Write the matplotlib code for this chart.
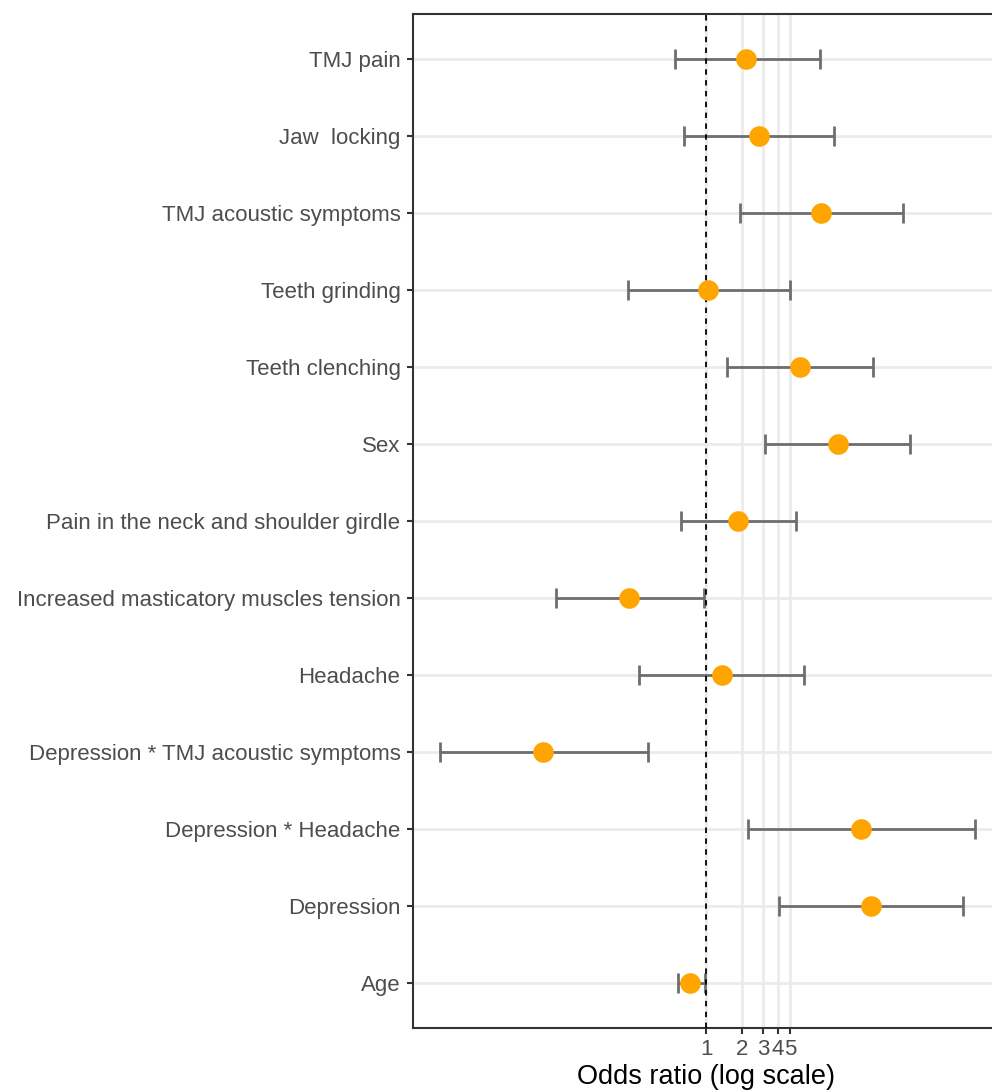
import numpy as np
import matplotlib
matplotlib.use('Agg')
import matplotlib.pyplot as plt

plt.rcParams['font.family'] = ['Liberation Sans', 'DejaVu Sans']

# Predictors, bottom to top
labels = ['Age', 'Depression', 'Depression * Headache', 'Depression * TMJ acoustic symptoms',
          'Headache', 'Increased masticatory muscles tension',
          'Pain in the neck and shoulder girdle', 'Sex', 'Teeth clenching',
          'Teeth grinding', 'TMJ acoustic symptoms', 'Jaw  locking', 'TMJ pain']
odds = [0.74, 23.9, 19.7, 0.0436, 1.36, 0.227, 1.85, 12.7, 6.1, 1.04, 9.1, 2.77, 2.16]
lower = [0.58, 4.07, 2.24, 0.006, 0.276, 0.056, 0.62, 3.11, 1.5, 0.223, 1.92, 0.655, 0.55]
upper = [0.99, 140, 176, 0.328, 6.6, 0.96, 5.64, 50.5, 24.8, 5.03, 44.2, 11.7, 8.95]
xticks = [1, 2, 3, 4, 5]

fig = plt.figure(figsize=(9.92, 10.91), dpi=100)
ax = fig.add_axes([413/992, 63/1091, 586/992, 1014/1091])

y = np.arange(1, len(labels) + 1)
odds = np.array(odds)
lower = np.array(lower)
upper = np.array(upper)

# grid
for yy in y:
    ax.axhline(yy, color='#EBEBEB', lw=2, zorder=0)
for xt in xticks:
    ax.axvline(xt, color='#EBEBEB', lw=2, zorder=0)

ax.errorbar(odds, y, xerr=[odds - lower, upper - odds], fmt='none',
            ecolor='#6E6E6E', elinewidth=2, capsize=7, capthick=2, zorder=2)
ax.axvline(1, color='black', lw=1.3, ls=(0, (3, 3)), zorder=3)
ax.scatter(odds, y, s=220, color='#FFA500', zorder=4, linewidths=0)

ax.set_xscale('log')
ax.set_xlim(np.exp(-5.63), np.exp(5.63))
ax.set_ylim(0.42, 13.58)
ax.set_xticks(xticks)
ax.set_xticklabels([str(t) for t in xticks])
ax.minorticks_off()
ax.set_yticks(y)
ax.set_yticklabels(labels)

ax.tick_params(axis='both', colors='#333333', labelcolor='#4D4D4D',
               labelsize=16, length=4, width=1.5, pad=4)
ax.tick_params(axis='y', pad=5)
for s in ax.spines.values():
    s.set_color('#333333')
    s.set_linewidth(1.5)

ax.set_xlabel('Odds ratio (log scale)', fontsize=19.5, color='black', labelpad=3)

fig.savefig('out.png', dpi=100)
